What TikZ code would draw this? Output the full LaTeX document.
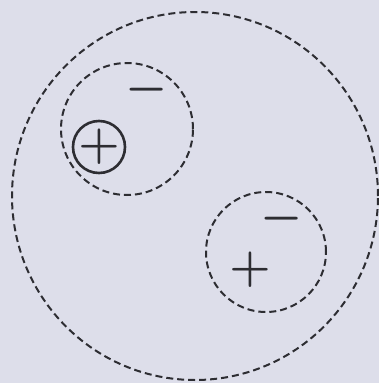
\documentclass[tikz,border=0pt]{standalone}
\usepackage{amsmath,amssymb}
\usepackage{xcolor}
\usepackage{graphicx}
\usepackage{tikz}
\usetikzlibrary{positioning,shapes.geometric,backgrounds}

\definecolor{paper}{RGB}{221,222,234}
\definecolor{ink}{RGB}{45,45,50}

\begin{document}
\begin{tikzpicture}[x=1pt, y=-1pt, font=\small,
  shell/.style={draw=ink, line width=2pt, dash pattern=on 7pt off 4pt, inner sep=0pt},
  sign/.style={text=ink, inner sep=0pt, font=\fontsize{24.88}{25}\selectfont\boldmath}]
  % page
  \fill[paper] (0,0) rectangle (379,383);
  \useasboundingbox (0,0) rectangle (379,383);

  % Outer cloud
  \node[shell, ellipse, minimum width=366pt, minimum height=368pt] (outer) at (195,196) {};

  % Upper pair: bound charge with its partner
  \node[shell, circle, minimum size=132pt] (pairA) at (127,129) {};
  \node[draw=ink, circle, line width=2.6pt, minimum size=52pt, inner sep=0pt] (ion) at (99,147) {};
  \node[sign] (plusA) at (ion.center) {\scalebox{1.9}{$+$}};
  \node[sign] (minusA) at (147,90) {\scalebox{1.9}{$-$}};

  % Lower pair
  \node[shell, circle, minimum size=120pt] (pairB) at (266,252) {};
  \node[sign] (minusB) at (282,219) {\scalebox{1.9}{$-$}};
  \node[sign] (plusB) at (250,270) {\scalebox{1.9}{$+$}};

\end{tikzpicture}
\end{document}
